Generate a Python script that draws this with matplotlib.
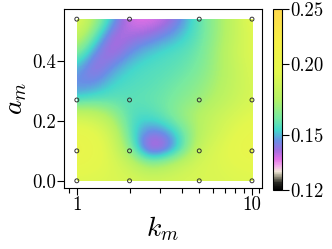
import numpy as np
import matplotlib
matplotlib.use("Agg")
import matplotlib.pyplot as plt
from matplotlib.colors import LinearSegmentedColormap, LogNorm
from matplotlib.patches import Rectangle
from matplotlib.ticker import FixedLocator, FixedFormatter, NullLocator, NullFormatter

# sampled points (markers)
k_pts = [1, 2, 5, 10]
a_pts = [0.0, 0.1, 0.27, 0.54]

# field on a grid (log10 k columns, a rows)
logk_grid = [0.0, 0.1, 0.2, 0.3, 0.4, 0.5, 0.6, 0.7, 0.8, 0.9, 1.0]
a_grid = [0.0, 0.054, 0.108, 0.162, 0.216, 0.27, 0.324, 0.378, 0.432, 0.486, 0.54]
field = [
    [0.190, 0.190, 0.189, 0.188, 0.186, 0.186, 0.187, 0.188, 0.189, 0.190, 0.190],
    [0.198, 0.195, 0.190, 0.182, 0.168, 0.172, 0.182, 0.188, 0.190, 0.193, 0.195],
    [0.202, 0.198, 0.188, 0.163, 0.134, 0.137, 0.154, 0.182, 0.190, 0.196, 0.202],
    [0.198, 0.195, 0.183, 0.156, 0.144, 0.145, 0.157, 0.175, 0.185, 0.193, 0.198],
    [0.185, 0.182, 0.170, 0.155, 0.154, 0.159, 0.168, 0.175, 0.182, 0.188, 0.193],
    [0.153, 0.156, 0.157, 0.157, 0.158, 0.160, 0.164, 0.168, 0.175, 0.182, 0.188],
    [0.145, 0.146, 0.153, 0.155, 0.156, 0.158, 0.161, 0.165, 0.172, 0.180, 0.188],
    [0.150, 0.139, 0.147, 0.153, 0.155, 0.156, 0.158, 0.162, 0.170, 0.180, 0.190],
    [0.165, 0.145, 0.138, 0.146, 0.151, 0.154, 0.156, 0.160, 0.170, 0.182, 0.192],
    [0.182, 0.158, 0.139, 0.140, 0.142, 0.146, 0.151, 0.158, 0.168, 0.180, 0.192],
    [0.195, 0.170, 0.150, 0.136, 0.135, 0.138, 0.146, 0.158, 0.168, 0.180, 0.195],
]

cbar_ticks = [0.12, 0.15, 0.20, 0.25]
cbar_labels = ["0.12", "0.15", "0.20", "0.25"]

plt.rcParams["font.family"] = "cmr10"
plt.rcParams["mathtext.fontset"] = "cm"
plt.rcParams["axes.formatter.use_mathtext"] = True

cmap = LinearSegmentedColormap.from_list("custom", [
    (0.0, "#000000"), (0.04, "#2a2a24"), (0.075, "#a09c88"), (0.10, "#efe6d6"),
    (0.135, "#f2a8ec"), (0.17, "#e070e6"), (0.22, "#a06ee0"), (0.27, "#6a8ee6"),
    (0.33, "#44d8cc"), (0.40, "#78eaa0"), (0.50, "#b4f266"), (0.65, "#e4f84e"),
    (0.82, "#f6f046"), (1.0, "#ffd84c")])
norm = LogNorm(vmin=0.12, vmax=0.25)

fig = plt.figure(figsize=(3.32, 2.49), dpi=100)
ax = fig.add_axes([0.193, 0.245, 0.596, 0.719])

dx = (logk_grid[1] - logk_grid[0]) / 2
dy = (a_grid[1] - a_grid[0]) / 2
im = ax.imshow(np.array(field), origin="lower", aspect="auto", cmap=cmap, norm=norm,
               interpolation="bicubic",
               extent=[logk_grid[0] - dx, logk_grid[-1] + dx, a_grid[0] - dy, a_grid[-1] + dy])
clip = Rectangle((logk_grid[0], a_grid[0]), logk_grid[-1] - logk_grid[0],
                 a_grid[-1] - a_grid[0], transform=ax.transData)
im.set_clip_path(clip)

kk, aa = np.meshgrid(np.log10(k_pts), a_pts)
ax.scatter(kk.ravel(), aa.ravel(), s=8, facecolors="none", edgecolors="#333333",
           linewidths=0.7, zorder=3)

ax.set_xlim(np.log10(0.846), np.log10(11.4))
ax.set_ylim(-0.024, 0.574)

ax.xaxis.set_major_locator(FixedLocator(np.log10([1, 10])))
ax.xaxis.set_major_formatter(FixedFormatter(["1", "10"]))
ax.xaxis.set_minor_locator(FixedLocator(np.log10([0.9, 2, 3, 4, 5, 6, 7, 8, 9, 11])))
ax.xaxis.set_minor_formatter(NullFormatter())
ax.set_yticks([0.0, 0.2, 0.4])
ax.set_yticklabels(["0.0", "0.2", "0.4"])

ax.tick_params(which="major", length=5, width=0.8, labelsize=13.5, pad=1)
ax.tick_params(which="minor", length=3.3, width=0.8)
for s in ax.spines.values():
    s.set_linewidth(0.8)

ax.set_xlabel(r"$k_m$", fontsize=20, labelpad=0)
ax.set_ylabel(r"$a_m$", fontsize=20, labelpad=2)

cax = fig.add_axes([0.822, 0.237, 0.0286, 0.727])
cb = fig.colorbar(im, cax=cax)
cb.set_ticks(cbar_ticks)
cb.set_ticklabels(cbar_labels)
cax.yaxis.set_minor_locator(NullLocator())
cax.tick_params(length=5, width=0.8, labelsize=13.5, pad=1)
cb.outline.set_linewidth(0.8)

fig.savefig("out.png", dpi=100)
